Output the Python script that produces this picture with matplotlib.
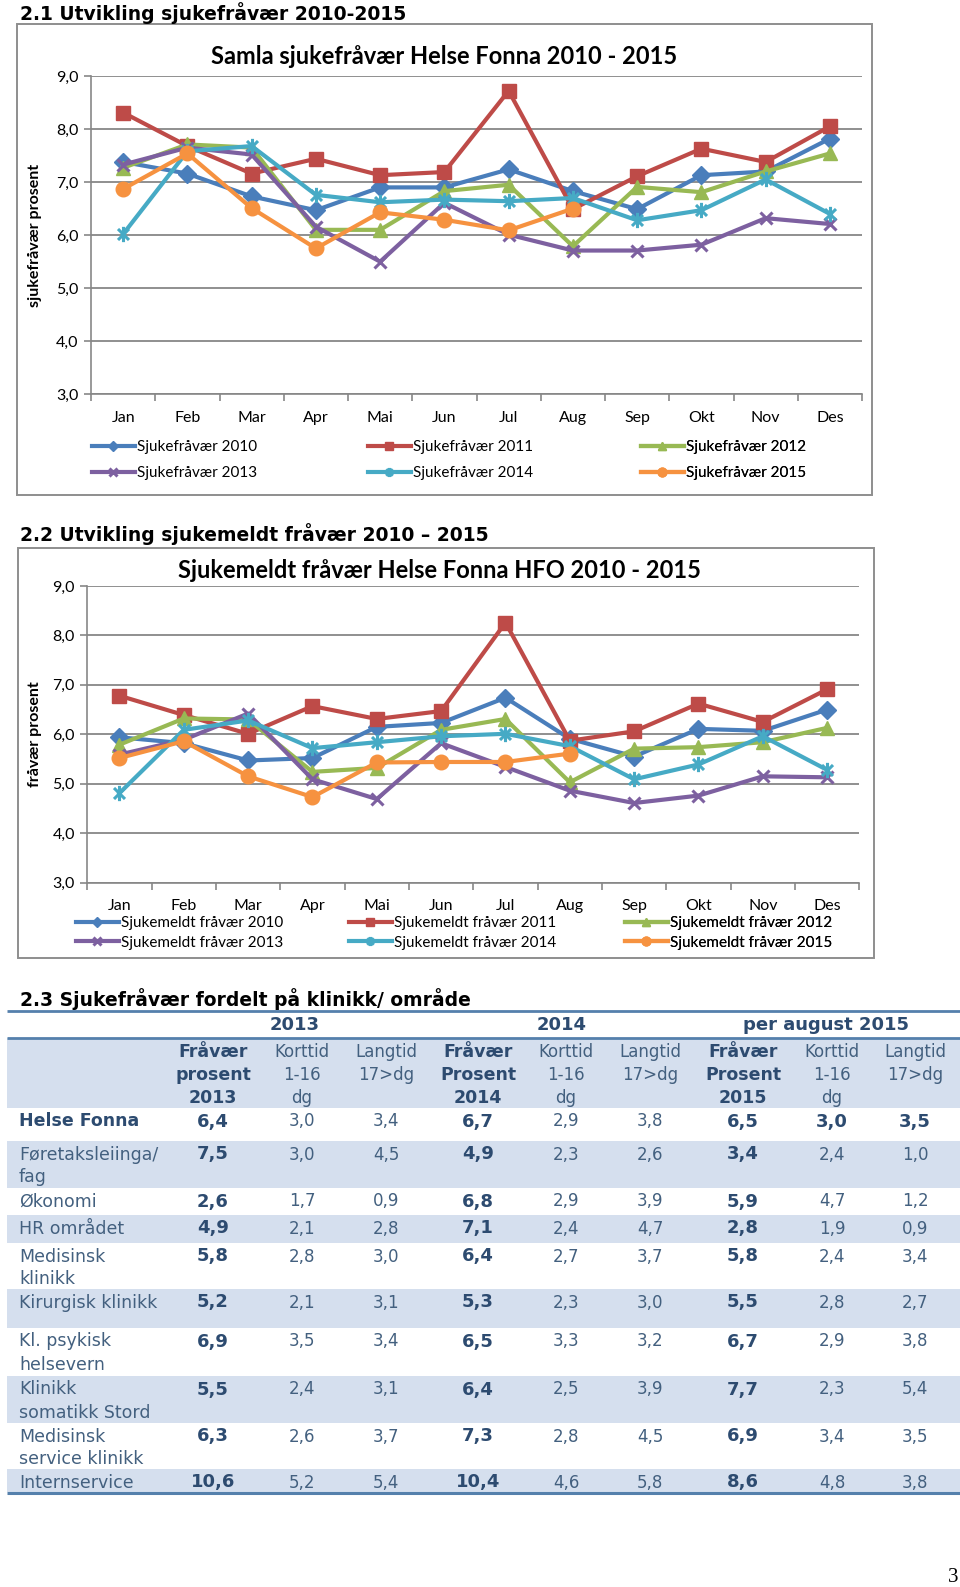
import matplotlib
matplotlib.use("Agg")
import matplotlib.pyplot as plt
from matplotlib.path import Path
from matplotlib.ticker import FuncFormatter
import numpy as np

W, H = 960, 1587

months = ["Jan", "Feb", "Mar", "Apr", "Mai", "Jun", "Jul", "Aug", "Sep", "Okt", "Nov", "Des"]
years = [2010, 2011, 2012, 2013, 2014, 2015]

# 2.1 Samla sjukefråvær (prosent)
samla_2010 = [7.38, 7.16, 6.73, 6.47, 6.90, 6.90, 7.24, 6.83, 6.49, 7.13, 7.20, 7.82]
samla_2011 = [8.31, 7.68, 7.16, 7.44, 7.13, 7.19, 8.72, 6.49, 7.11, 7.63, 7.38, 8.05]
samla_2012 = [7.27, 7.71, 7.65, 6.10, 6.10, 6.83, 6.95, 5.79, 6.91, 6.81, 7.20, 7.54]
samla_2013 = [7.33, 7.65, 7.52, 6.16, 5.50, 6.61, 6.01, 5.71, 5.71, 5.82, 6.32, 6.21]
samla_2014 = [6.02, 7.58, 7.68, 6.76, 6.62, 6.67, 6.64, 6.70, 6.28, 6.47, 7.05, 6.40]
samla_2015 = [6.87, 7.54, 6.51, 5.75, 6.43, 6.29, 6.09, 6.50]

# 2.2 Sjukemeldt fråvær (prosent)
meldt_2010 = [5.94, 5.82, 5.47, 5.52, 6.15, 6.23, 6.74, 5.91, 5.55, 6.11, 6.07, 6.50]
meldt_2011 = [6.78, 6.39, 6.01, 6.57, 6.31, 6.47, 8.26, 5.87, 6.06, 6.62, 6.25, 6.91]
meldt_2012 = [5.79, 6.32, 6.30, 5.24, 5.32, 6.09, 6.31, 5.03, 5.71, 5.74, 5.84, 6.13]
meldt_2013 = [5.59, 5.89, 6.42, 5.09, 4.69, 5.82, 5.34, 4.86, 4.61, 4.76, 5.15, 5.13]
meldt_2014 = [4.81, 6.09, 6.28, 5.72, 5.84, 5.96, 6.01, 5.76, 5.09, 5.39, 5.96, 5.28]
meldt_2015 = [5.52, 5.86, 5.15, 4.73, 5.43, 5.44, 5.44, 5.61]

# 2.3 table
row_labels = [["Helse Fonna"], ["Føretaksleiinga/", "fag"], ["Økonomi"], ["HR området"],
              ["Medisinsk", "klinikk"], ["Kirurgisk klinikk"], ["Kl. psykisk", "helsevern"],
              ["Klinikk", "somatikk Stord"], ["Medisinsk", "service klinikk"], ["Internservice"]]
group_years = ["2013", "2014", "per august 2015"]
col_headers = [["Fråvær", "prosent", "2013"], ["Korttid", "1-16", "dg"], ["Langtid", "17>dg"],
               ["Fråvær", "Prosent", "2014"], ["Korttid", "1-16", "dg"], ["Langtid", "17>dg"],
               ["Fråvær", "Prosent", "2015"], ["Korttid", "1-16", "dg"], ["Langtid", "17>dg"]]
fravaer_2013 = [6.4, 7.5, 2.6, 4.9, 5.8, 5.2, 6.9, 5.5, 6.3, 10.6]
korttid_2013 = [3.0, 3.0, 1.7, 2.1, 2.8, 2.1, 3.5, 2.4, 2.6, 5.2]
langtid_2013 = [3.4, 4.5, 0.9, 2.8, 3.0, 3.1, 3.4, 3.1, 3.7, 5.4]
fravaer_2014 = [6.7, 4.9, 6.8, 7.1, 6.4, 5.3, 6.5, 6.4, 7.3, 10.4]
korttid_2014 = [2.9, 2.3, 2.9, 2.4, 2.7, 2.3, 3.3, 2.5, 2.8, 4.6]
langtid_2014 = [3.8, 2.6, 3.9, 4.7, 3.7, 3.0, 3.2, 3.9, 4.5, 5.8]
fravaer_2015 = [6.5, 3.4, 5.9, 2.8, 5.8, 5.5, 6.7, 7.7, 6.9, 8.6]
korttid_2015 = [3.0, 2.4, 4.7, 1.9, 2.4, 2.8, 2.9, 2.3, 3.4, 4.8]
langtid_2015 = [3.5, 1.0, 1.2, 0.9, 3.4, 2.7, 3.8, 5.4, 3.5, 3.8]

CHART_FONT = ["Lato", "DejaVu Sans"]
GRID = "#878787"
TXT_BOLD = "#2D4B70"
TXT = "#43607F"
BAND = "#D5DFEE"
RULE = "#5580AC"

STAR = Path([(0, -1), (0, 1), (-0.72, -0.72), (0.72, 0.72), (-0.72, 0.72), (0.72, -0.72)],
            [Path.MOVETO, Path.LINETO] * 3)
styles = [
  ("#4A7EBB", "D", 9),
  ("#BE4B48", "s", 10.5),
  ("#98B954", "^", 10.5),
  ("#7D60A0", "x", 9),
  ("#46AAC5", STAR, 11),
  ("#F69240", "o", 10.5),
]


def box(x0, y0, x1, y1):
  return [x0 / W, 1 - y1 / H, (x1 - x0) / W, (y1 - y0) / H]


def fpt(x, y):
  return x / W, 1 - y / H


fig = plt.figure(figsize=(W / 100, H / 100), dpi=100)


def frame(x0, y0, x1, y1):
  fig.patches.append(plt.Rectangle(fpt(x0, y1), (x1 - x0) / W, (y1 - y0) / H,
                                   transform=fig.transFigure, fill=False,
                                   edgecolor="#8E8E8E", lw=1.4))


def draw_chart(rect, series, prefix, legend_cols, legend_y, legend_gap):
  ax = fig.add_axes(box(*rect))
  x = np.arange(len(months))
  handles = []
  for vals, yr, (c, m, ms) in zip(series, years, styles):
    thin = m == "x" or m is STAR
    ln, = ax.plot(x[:len(vals)], vals, color=c, lw=3, marker=m, ms=ms, mfc=c, mec=c,
                  mew=2.2 if thin else 1, label=f"{prefix} {yr}", zorder=3,
                  solid_joinstyle="round", clip_on=False)
    handles.append(ln)
  ax.set_xlim(-0.5, 11.5)
  ax.set_ylim(3, 9)
  ax.set_yticks(range(3, 10))
  ax.yaxis.set_major_formatter(FuncFormatter(lambda v, p: f"{v:.1f}".replace(".", ",")))
  ax.set_xticks(x)
  ax.set_xticklabels(months)
  ax.set_xticks(np.arange(-0.5, 12), minor=True)
  ax.tick_params(axis="x", which="major", length=0, pad=12, labelsize=11.5)
  ax.tick_params(axis="x", which="minor", length=5, color=GRID, width=1.2)
  ax.tick_params(axis="y", length=5, color=GRID, width=1.2, pad=4, labelsize=11.5)
  for lab in ax.get_xticklabels() + ax.get_yticklabels():
    lab.set_family(CHART_FONT)
  ax.grid(axis="y", color=GRID, lw=1.3)
  ax.set_axisbelow(True)
  for s in ("top", "right"):
    ax.spines[s].set_visible(False)
  for s in ("left", "bottom"):
    ax.spines[s].set_color(GRID)
    ax.spines[s].set_linewidth(1.2)
  # one legend per column, two rows each
  for col, lx in enumerate(legend_cols):
    leg = ax.legend(handles=[handles[col], handles[col + 3]], loc="upper left",
                    bbox_to_anchor=fpt(lx, legend_y), bbox_transform=fig.transFigure,
                    frameon=False, borderpad=0, borderaxespad=0, handlelength=2.8,
                    handletextpad=0.15, labelspacing=legend_gap, markerscale=0.6,
                    prop={"family": CHART_FONT, "size": 11})
    ax.add_artist(leg)
  return ax


# 2.1
fig.text(*fpt(20, 13), "2.1 Utvikling sjukefråvær 2010-2015", family="DejaVu Sans",
         weight="bold", size=13.5, va="center", ha="left")
frame(17, 24, 872, 495)
fig.text(*fpt(444, 57), "Samla sjukefråvær Helse Fonna 2010 - 2015", family=CHART_FONT,
         weight="bold", size=17, ha="center", va="center")
fig.text(*fpt(35, 235), "sjukefråvær prosent", family=CHART_FONT, weight="bold", size=11.5,
         rotation=90, ha="center", va="center")
draw_chart((91, 76, 862, 394.3),
           [samla_2010, samla_2011, samla_2012, samla_2013, samla_2014, samla_2015],
           "Sjukefråvær", [92, 368, 641], 440, 0.78)

# 2.2
fig.text(*fpt(20, 534), "2.2 Utvikling sjukemeldt fråvær 2010 – 2015", family="DejaVu Sans",
         weight="bold", size=13.5, va="center", ha="left")
frame(18, 548, 874, 958)
fig.text(*fpt(440, 571), "Sjukemeldt fråvær Helse Fonna HFO 2010 - 2015", family=CHART_FONT,
         weight="bold", size=17, ha="center", va="center")
fig.text(*fpt(35, 734), "fråvær prosent", family=CHART_FONT, weight="bold", size=11.5,
         rotation=90, ha="center", va="center")
draw_chart((87.3, 586, 859.3, 882.6),
           [meldt_2010, meldt_2011, meldt_2012, meldt_2013, meldt_2014, meldt_2015],
           "Sjukemeldt fråvær", [76, 349, 625], 916, 0.38)

# 2.3 table
fig.text(*fpt(20, 999), "2.3 Sjukefråvær fordelt på klinikk/ område", family="DejaVu Sans",
         weight="bold", size=13.5, va="center", ha="left")
tab = fig.add_axes(box(0, 1005, W, 1500))
tab.set_xlim(0, W)
tab.set_ylim(1500, 1005)
tab.axis("off")

col_x = [213, 302, 386, 478, 566, 650, 743, 832, 915]
group_x = [295, 562, 826]
row_edges = [1108, 1141, 1188, 1215, 1243, 1289, 1328, 1376, 1423, 1469, 1492]
x_left, x_right = 7, W
line_gap = 23

tab.fill_between([x_left, x_right], 1038, 1108, color=BAND, lw=0)
for i in range(len(row_labels)):
  if i % 2 == 1:
    tab.fill_between([x_left, x_right], row_edges[i], row_edges[i + 1], color=BAND, lw=0)
tab.hlines([1011, 1038], x_left, x_right, color=RULE, lw=2)
tab.hlines([row_edges[-1] + 1], x_left, x_right, color=RULE, lw=2.2)

for gx, gy in zip(group_x, group_years):
  tab.text(gx, 1025, gy, ha="center", va="center", family="DejaVu Sans", weight="bold",
           size=13, color=TXT_BOLD)
for j, (cx, lines) in enumerate(zip(col_x, col_headers)):
  bold = j % 3 == 0
  for k, t in enumerate(lines):
    tab.text(cx, 1052 + k * line_gap, t, ha="center", va="center", family="DejaVu Sans",
             weight="bold" if bold else "normal", size=12.5 if bold else 12,
             color=TXT_BOLD if bold else TXT)

columns = [fravaer_2013, korttid_2013, langtid_2013, fravaer_2014, korttid_2014, langtid_2014,
           fravaer_2015, korttid_2015, langtid_2015]
for i, lab in enumerate(row_labels):
  y0 = row_edges[i] + 13.5
  first = i == 0
  for k, t in enumerate(lab):
    tab.text(19, y0 + k * line_gap, t, ha="left", va="center", family="DejaVu Sans",
             weight="bold" if first else "normal", size=12.5,
             color=TXT_BOLD if first else TXT)
  for j, (cx, col) in enumerate(zip(col_x, columns)):
    bold = j % 3 == 0 or (first and j >= 6)
    tab.text(cx, y0, f"{col[i]:.1f}".replace(".", ","), ha="center", va="center",
             family="DejaVu Sans", weight="bold" if bold else "normal",
             size=13 if bold else 12, color=TXT_BOLD if bold else TXT)

fig.text(*fpt(953, 1577), "3", family="Liberation Serif", size=15, ha="center", va="center")

fig.savefig("out.png", dpi=100)
